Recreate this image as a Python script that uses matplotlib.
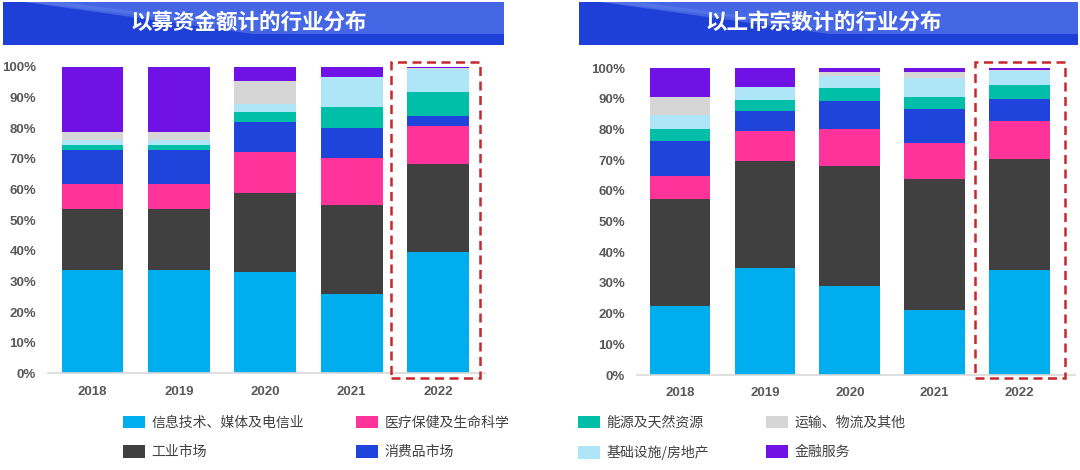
import matplotlib
matplotlib.use("Agg")
import matplotlib.pyplot as plt
from matplotlib.patches import Rectangle, Polygon
import numpy as np

plt.rcParams['font.family'] = ['Liberation Sans', 'Noto Sans CJK SC', 'DejaVu Sans']

years = ['2018', '2019', '2020', '2021', '2022']
categories = ['信息技术、媒体及电信业', '工业市场', '医疗保健及生命科学', '消费品市场',
              '能源及天然资源', '基础设施/房地产', '运输、物流及其他', '金融服务']
colors = ['#00AEEF', '#404040', '#FF3399', '#1F44DB', '#00BFA8', '#AEE6F8', '#D6D6D6', '#7011E6']

# 以募资金额计 (share %, per year, bottom -> top)
amount_it        = [33.7, 33.7, 33.0, 25.9, 39.7]
amount_industry  = [19.8, 19.8, 25.9, 29.0, 28.7]
amount_health    = [8.3, 8.3, 13.3, 15.4, 12.4]
amount_consumer  = [11.0, 11.0, 9.9, 9.6, 3.2]
amount_energy    = [1.7, 1.7, 3.2, 7.1, 7.8]
amount_infra     = [1.6, 1.6, 2.4, 9.5, 7.5]
amount_transport = [2.7, 2.7, 7.6, 0.2, 0.2]
amount_finance   = [21.2, 21.2, 4.7, 3.3, 0.5]

# 以上市宗数计
count_it        = [22.5, 34.8, 29.1, 21.2, 34.2]
count_industry  = [34.8, 35.0, 39.2, 42.6, 36.2]
count_health    = [7.6, 9.8, 11.8, 11.7, 12.4]
count_consumer  = [11.4, 6.5, 9.2, 11.2, 7.2]
count_energy    = [3.8, 3.6, 4.4, 4.0, 4.6]
count_infra     = [4.7, 4.2, 3.8, 6.0, 4.5]
count_transport = [5.8, 0.0, 1.4, 2.2, 0.3]
count_finance   = [9.4, 6.1, 1.1, 1.1, 0.6]

amount_series = [amount_it, amount_industry, amount_health, amount_consumer,
                 amount_energy, amount_infra, amount_transport, amount_finance]
count_series = [count_it, count_industry, count_health, count_consumer,
                count_energy, count_infra, count_transport, count_finance]

titles = ['以募资金额计的行业分布', '以上市宗数计的行业分布']
yticks = [0, 10, 20, 30, 40, 50, 60, 70, 80, 90, 100]
ytick_labels = [f'{v}%' for v in yticks]

W, H = 1080, 470
fig = plt.figure(figsize=(W / 100, H / 100), dpi=100)

# background overlay for banners
bg = fig.add_axes([0, 0, 1, 1], zorder=0)
bg.set_xlim(0, W)
bg.set_ylim(H, 0)
bg.axis('off')


def banner(x0, x1, title):
    bg.add_patch(Rectangle((x0, 2), x1 - x0, 43, facecolor='#1E40D8', edgecolor='none'))
    bg.add_patch(Polygon([(x0 + 22, 2), (x1, 2), (x1, 34), (x0 + 300, 34)],
                         closed=True, facecolor='#4567E6', edgecolor='none'))
    bg.add_patch(Polygon([(x0 + 22, 2), (x0 + 60, 2), (x0 + 300, 34), (x0 + 250, 34)],
                         closed=True, facecolor='#5C7BEA', edgecolor='none', alpha=0.6))
    bg.text((x0 + x1) / 2 - 5, 22.5, title, color='white', fontsize=15.5, fontweight='bold',
            ha='center', va='center', family=['Noto Sans CJK SC', 'DejaVu Sans'])


banner(3, 504, titles[0])
banner(579, 1078, titles[1])


def px_axes(left, right, ybottom, ytop):
    return fig.add_axes([left / W, 1 - ybottom / H, (right - left) / W, (ybottom - ytop) / H], zorder=2)


def draw_chart(ax, series, xlim, box):
    x = np.arange(len(years))
    bottom = np.zeros(len(years))
    handles = []
    for vals, col, lab in zip(series, colors, categories):
        b = ax.bar(x, vals, bottom=bottom, width=0.715, color=col, label=lab, linewidth=0)
        handles.append(b)
        bottom += np.array(vals)
    ax.set_xlim(*xlim)
    ax.set_ylim(0, 100)
    ax.set_yticks(yticks)
    ax.set_yticklabels(ytick_labels)
    ax.set_xticks(x)
    ax.set_xticklabels(years)
    for s in ['top', 'right', 'left']:
        ax.spines[s].set_visible(False)
    ax.spines['bottom'].set_color('#D9D9D9')
    ax.spines['bottom'].set_linewidth(1.2)
    ax.tick_params(axis='both', length=0, labelsize=9.5, labelcolor='#595959')
    ax.tick_params(axis='y', pad=8.5)
    ax.tick_params(axis='x', pad=9)
    for t in ax.get_xticklabels() + ax.get_yticklabels():
        t.set_fontweight('bold')
    bx0, bx1, by0, by1 = box
    ax.add_patch(Rectangle((bx0, by0), bx1 - bx0, by1 - by0, fill=False,
                           edgecolor='#C6282E', linewidth=1.8, linestyle=(0, (3.6, 2.2)),
                           clip_on=False, zorder=5))
    return handles


ax1 = px_axes(48, 485, 373.4, 66.7)
h = draw_chart(ax1, amount_series, (-0.515, 4.543), (3.46, 4.48, -1.5, 101.6))
ax2 = px_axes(637, 1075, 375, 68.3)
draw_chart(ax2, count_series, (-0.509, 4.656), (3.48, 4.54, -1.1, 102.0))

# legend: four columns of two entries each
col_x = [123, 356, 578, 766]
for i, cx in enumerate(col_x):
    hs = h[2 * i:2 * i + 2]
    labs = categories[2 * i:2 * i + 2]
    fig.legend(hs, labs, loc='upper left', bbox_to_anchor=(cx / W, 1 - 416 / H),
               frameon=False, borderpad=0, borderaxespad=0, handlelength=1.55,
               handleheight=1.0, handletextpad=0.5, labelspacing=1.1,
               prop={'family': ['Noto Sans CJK SC', 'DejaVu Sans'], 'size': 10},
               labelcolor='#404040')

fig.savefig('out.png', dpi=100)
